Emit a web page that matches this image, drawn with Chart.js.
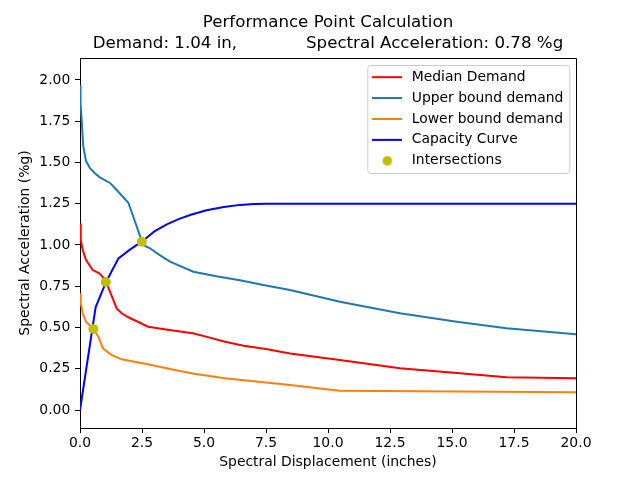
<!DOCTYPE html>
<html><head><meta charset="utf-8">
<script src="https://cdn.jsdelivr.net/npm/chart.js@4"></script>
<style>html,body{margin:0;padding:0;background:#fff;}canvas{display:block;}</style>
</head><body>
<canvas id="c" width="640" height="480"></canvas>
<script>
const titleLines = ['Performance Point Calculation', 'Demand: 1.04 in,             Spectral Acceleration: 0.78 %g'];
const xTitle = 'Spectral Displacement (inches)';
const yTitle = 'Spectral Acceleration (%g)';
const seriesNames = ['Median Demand', 'Upper bound demand', 'Lower bound demand', 'Capacity Curve', 'Intersections'];

const medianX = [0, 0.03, 0.11, 0.24, 0.51, 0.78, 0.92, 1.05, 1.48, 1.68, 1.95, 2.75, 3.6, 4.55, 5.2, 5.85, 6.6, 7.5, 8.47, 10.48, 12.9, 15.2, 17.2, 20];
const medianY = [1.13, 1.03, 0.97, 0.91, 0.848, 0.828, 0.805, 0.776, 0.616, 0.586, 0.562, 0.505, 0.485, 0.465, 0.44, 0.414, 0.39, 0.37, 0.343, 0.303, 0.253, 0.224, 0.198, 0.192];

const upperX = [0, 0.02, 0.07, 0.13, 0.24, 0.4, 0.6, 0.8, 1.21, 1.48, 1.95, 2.55, 2.82, 3.2, 3.63, 4.57, 5.5, 6.5, 7.39, 8.47, 10.48, 12.9, 15.19, 17.2, 20];
const upperY = [1.97, 1.86, 1.75, 1.6, 1.51, 1.465, 1.435, 1.41, 1.376, 1.333, 1.256, 1.0, 0.98, 0.94, 0.899, 0.838, 0.81, 0.785, 0.758, 0.727, 0.656, 0.586, 0.535, 0.495, 0.459];

const lowerX = [0, 0.03, 0.11, 0.24, 0.54, 0.74, 0.93, 1.28, 1.68, 2.69, 3.83, 4.6, 5.85, 7.5, 8.47, 10.48, 20];
const lowerY = [0.707, 0.65, 0.586, 0.535, 0.491, 0.444, 0.372, 0.333, 0.307, 0.279, 0.242, 0.22, 0.192, 0.167, 0.152, 0.117, 0.107];

const capacityX = [0, 0.63, 1.05, 1.55, 2.0, 2.49, 3.0, 3.5, 4.0, 4.5, 5.1, 5.8, 6.45, 7.0, 7.53, 20];
const capacityY = [0, 0.622, 0.776, 0.919, 0.97, 1.02, 1.082, 1.125, 1.158, 1.185, 1.21, 1.23, 1.243, 1.249, 1.25, 1.25];

const intersectX = [0.54, 1.04, 2.49];
const intersectY = [0.491, 0.776, 1.02];

const xMin = 0, xMax = 20, xStep = 2.5;
const yMin = -0.109, yMax = 2.133, yStep = 0.25;

const colors = ['#ff0000', '#1f77b4', '#ff7f0e', '#0000ff', '#bfbf00'];

function pts(xs, ys) { return xs.map((x, i) => ({x: x, y: ys[i]})); }

function lineHandle(color) {
  const c = document.createElement('canvas'); c.width = 30; c.height = 4;
  const g = c.getContext('2d'); g.fillStyle = color; g.fillRect(0, 1, 30, 2); return c;
}
function dotHandle(color) {
  const c = document.createElement('canvas'); c.width = 12; c.height = 12;
  const g = c.getContext('2d'); g.fillStyle = color; g.beginPath(); g.arc(6, 6, 4.8, 0, Math.PI * 2); g.fill(); return c;
}
const handles = [lineHandle(colors[0]), lineHandle(colors[1]), lineHandle(colors[2]), lineHandle(colors[3]), dotHandle(colors[4])];

Chart.defaults.font.family = "'DejaVu Sans', sans-serif";
Chart.defaults.color = '#000';

const FS = 13.9;

const framePlugin = {
  id: 'framePlugin',
  afterLayout(chart) {
    const ca = chart.chartArea, lg = chart.legend;
    const fRight = ca.right - 6.7, fTop = ca.top + 7, fW = 202;
    const fLeft = fRight - fW;
    const w = lg.width;
    lg.left = fLeft - 4.5; lg.right = lg.left + w;
    lg.top = fTop - 1.8;
    chart._legendFrame = {x: fLeft, y: fTop, w: fW, h: 108};
  },
  beforeDraw(chart) {
    const f = chart._legendFrame; if (!f) return;
    const ctx = chart.ctx;
    ctx.save();
    ctx.beginPath();
    if (ctx.roundRect) ctx.roundRect(f.x + 0.5, f.y + 0.5, f.w, f.h, 3); else ctx.rect(f.x + 0.5, f.y + 0.5, f.w, f.h);
    ctx.fillStyle = 'rgba(255,255,255,0.8)'; ctx.fill();
    ctx.strokeStyle = '#cccccc'; ctx.lineWidth = 1; ctx.stroke();
    ctx.restore();
  },
  afterDatasetsDraw(chart) {
    const ca = chart.chartArea, ctx = chart.ctx;
    ctx.save();
    ctx.strokeStyle = '#000'; ctx.lineWidth = 1;
    ctx.beginPath();
    ctx.moveTo(Math.round(ca.left) + 0.5, Math.round(ca.top) + 0.5);
    ctx.lineTo(Math.round(ca.right) + 0.5, Math.round(ca.top) + 0.5);
    ctx.lineTo(Math.round(ca.right) + 0.5, Math.round(ca.bottom) + 0.5);
    ctx.stroke();
    ctx.restore();
  }
};

const lineDs = (i, xs, ys, order) => ({
  label: seriesNames[i], data: pts(xs, ys), showLine: true, borderColor: colors[i], backgroundColor: colors[i],
  borderWidth: 2, pointRadius: 0, pointHoverRadius: 0, tension: 0, order: order
});

new Chart(document.getElementById('c'), {
  type: 'scatter',
  data: {
    datasets: [
      lineDs(0, medianX, medianY, 5),
      lineDs(1, upperX, upperY, 4),
      lineDs(2, lowerX, lowerY, 3),
      lineDs(3, capacityX, capacityY, 2),
      { label: seriesNames[4], data: pts(intersectX, intersectY), showLine: false, pointRadius: 5,
        pointBackgroundColor: colors[4], pointBorderWidth: 0, backgroundColor: colors[4], borderColor: colors[4], order: 1 }
    ]
  },
  options: {
    responsive: false, animation: false, devicePixelRatio: 1, events: [],
    layout: { padding: { top: 0, left: 0, right: 64, bottom: 0 } },
    plugins: {
      tooltip: { enabled: false },
      title: { display: true, text: titleLines, fullSize: false, color: '#000',
        font: { size: 16.67, weight: 'normal', lineHeight: 1.236 }, padding: { top: 12.45, bottom: 4.35 } },
      legend: {
        display: true, position: 'chartArea', align: 'start',
        labels: {
          usePointStyle: true, pointStyleWidth: 35, padding: 7, color: '#000', font: { size: FS },
          generateLabels(chart) {
            return chart.data.datasets.map((ds, i) => ({
              text: ds.label, fillStyle: colors[i], strokeStyle: colors[i], lineWidth: 0,
              hidden: false, datasetIndex: i, pointStyle: handles[i], fontColor: '#000'
            }));
          }
        }
      }
    },
    scales: {
      x: {
        type: 'linear', min: xMin, max: xMax,
        ticks: { stepSize: xStep, includeBounds: false, padding: 2, color: '#000', font: { size: FS }, maxRotation: 0, autoSkip: false,
          callback: v => Number(v).toFixed(1) },
        grid: { display: true, drawOnChartArea: false, drawTicks: true, tickLength: 5, color: '#000', tickWidth: 1 },
        border: { display: true, color: '#000', width: 1 },
        title: { display: true, text: xTitle, color: '#000', font: { size: FS }, padding: { top: 0, bottom: 8.8 } },
        afterFit(s) { s.height = 52; }
      },
      y: {
        type: 'linear', min: yMin, max: yMax,
        ticks: { stepSize: yStep, includeBounds: false, padding: 4.7, color: '#000', font: { size: FS }, autoSkip: false,
          callback: v => Number(v).toFixed(2) },
        grid: { display: true, drawOnChartArea: false, drawTicks: true, tickLength: 5, color: '#000', tickWidth: 1 },
        border: { display: true, color: '#000', width: 1 },
        title: { display: true, text: yTitle, color: '#000', font: { size: FS }, padding: { top: 17, bottom: 0 } },
        afterFit(s) { s.width = 80; }
      }
    }
  },
  plugins: [framePlugin]
});
</script>
</body></html>
